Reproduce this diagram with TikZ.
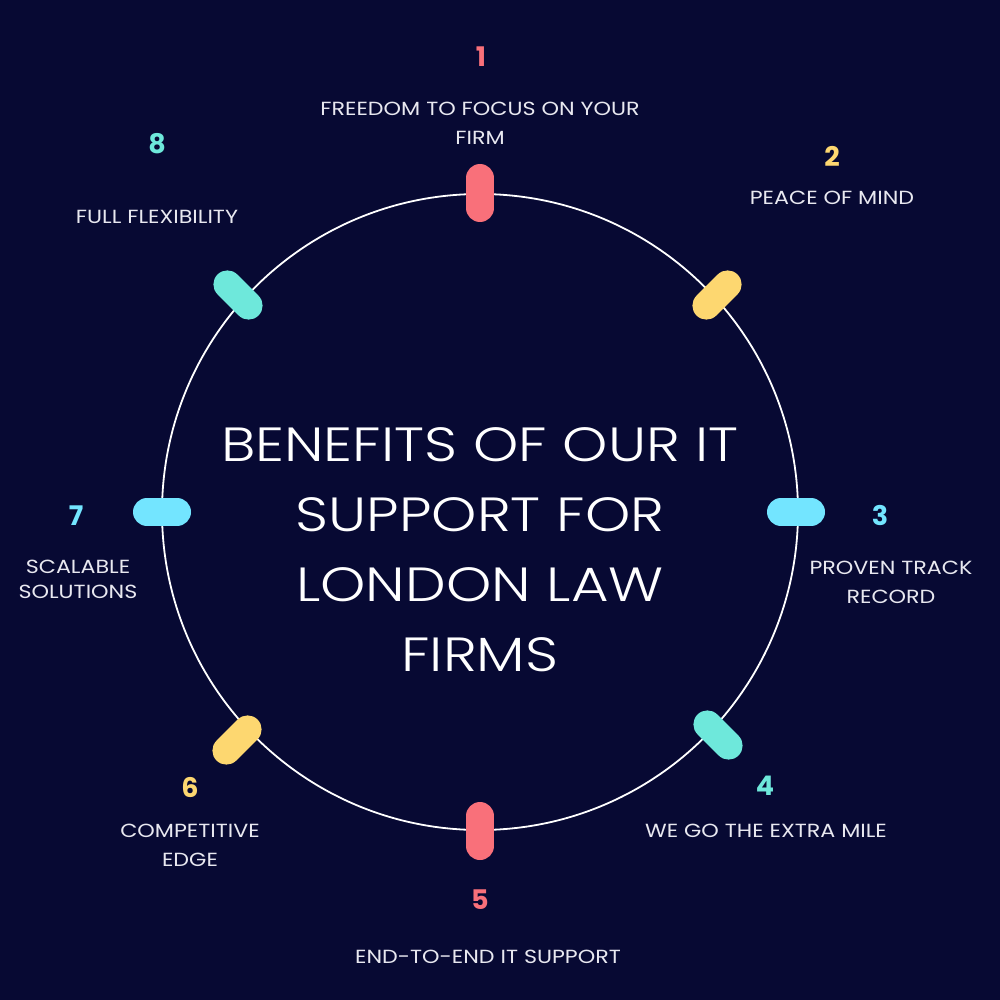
\documentclass[tikz,border=0pt]{standalone}
\usepackage{fontspec}
\setmainfont{Poppins}
\newfontfamily\lblfont{Poppins}[FakeStretch=1.17]
\newfontfamily\titlefont{Poppins Light}[FakeStretch=1.2]
\usetikzlibrary{calc}
\definecolor{bg}{HTML}{070933}
\definecolor{cred}{HTML}{F9707A}
\definecolor{cyel}{HTML}{FDD770}
\definecolor{cteal}{HTML}{6EE8DB}
\definecolor{ccyan}{HTML}{73E5FF}
\definecolor{ctxt}{HTML}{E8E8F0}
\begin{document}
\begin{tikzpicture}[x=1pt,y=-1pt,
  num/.style={font=\fontsize{27}{27}\selectfont\bfseries, inner sep=0pt},
  lbl/.style={font=\lblfont\fontsize{19}{29}\selectfont, text=ctxt, align=center, inner sep=0pt},
  title/.style={font=\titlefont\fontsize{48}{70}\selectfont, text=white, align=center, inner sep=0pt},
  pill/.style={line width=28pt, line cap=round}]
\fill[bg] (0,0) rectangle (1000,1000);
\useasboundingbox (0,0) rectangle (1000,1000);
\coordinate (c) at (480,512);
\node[draw=white, line width=1.8pt, circle, minimum size=636pt, inner sep=0pt] (ring) at (c) {};
% pills (radial), given centre and direction
\foreach \px/\py/\ang/\col in {480/193/90/cred, 717/295/45/cyel, 796/512/0/ccyan, 718/735/-45/cteal, 480/831/-90/cred, 237/740/-135/cyel, 162/512/180/ccyan, 238/295/135/cteal}{
  \coordinate (p) at (\px,\py);
  \draw[pill, \col] ($(p)+({cos(\ang)*15},{-sin(\ang)*15})$) -- ($(p)-({cos(\ang)*15},{-sin(\ang)*15})$);
}
% title
\node[title] (t) at (480,550) {BENEFITS OF OUR IT\\SUPPORT FOR\\LONDON LAW\\FIRMS};
% labels
\node[num, text=cred] (n1) at (481,57) {1};
\node[lbl] (l1) at (480,123.5) {FREEDOM TO FOCUS ON YOUR\\FIRM};
\node[num, text=cyel] (n2) at (832,156) {2};
\node[lbl] (l2) at (832,198) {PEACE OF MIND};
\node[num, text=ccyan] (n3) at (880,515) {3};
\node[lbl] (l3) at (891,582.5) {PROVEN TRACK\\RECORD};
\node[num, text=cteal] (n4) at (765,786) {4};
\node[lbl] (l4) at (766,831) {WE GO THE EXTRA MILE};
\node[num, text=cred] (n5) at (480,900) {5};
\node[lbl] (l5) at (488,957) {END-TO-END IT SUPPORT};
\node[num, text=cyel] (n6) at (190,787) {6};
\node[lbl] (l6) at (190,845.5) {COMPETITIVE\\EDGE};
\node[num, text=ccyan] (n7) at (76,516) {7};
\node[lbl, font=\lblfont\fontsize{19}{25}\selectfont] (l7) at (78,579) {SCALABLE\\SOLUTIONS};
\node[num, text=cteal] (n8) at (157,144) {8};
\node[lbl] (l8) at (157,217) {FULL FLEXIBILITY};
\end{tikzpicture}
\end{document}
